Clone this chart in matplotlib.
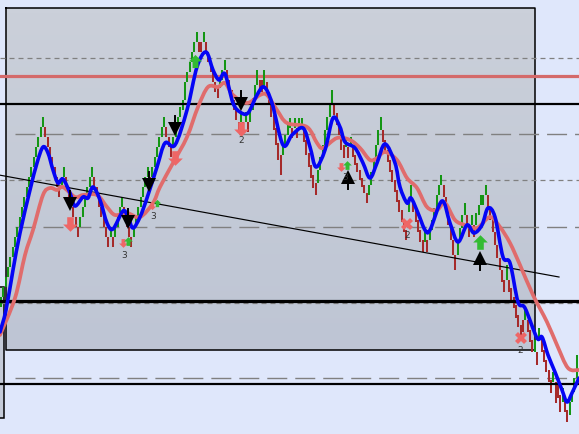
import numpy as np
import matplotlib
matplotlib.use('Agg')
import matplotlib.pyplot as plt
from matplotlib.path import Path
from matplotlib.patches import PathPatch

# everything in pixel units (y grows downward)
bar_step = 2.33
bar_high = [297,287,277,267,257,247,237,227,217,207,197,187,177,167,157,147,137,127,117,
            127,137,147,157,167,177,187,177,167,177,187,197,207,217,227,
            217,207,197,187,177,167,177,187,197,207,217,227,237,227,237,
            227,217,207,197,207,217,227,237,227,217,207,197,187,177,167,177,
            167,157,147,137,127,117,127,137,147,137,127,117,107,100,82,72,62,52,42,32,
            42,42,32,42,52,62,72,82,88,78,70,60,70,80,90,100,110,122,112,122,112,122,
            110,98,85,70,80,80,70,82,92,102,115,128,143,155,145,135,125,118,128,118,128,118,118,
            128,140,153,165,175,183,170,157,145,130,117,103,90,103,113,125,135,145,137,147,137,
            147,155,163,170,178,185,193,185,172,158,145,130,117,
            130,140,150,160,170,180,190,200,210,220,230,200,185,200,210,220,230,240,
            230,240,230,220,208,195,185,175,185,197,210,225,240,255,240,228,215,203,215,225,215,225,
            213,205,195,195,185,195,207,220,232,245,258,270,280,265,280,288,297,305,315,325,
            320,308,320,330,340,340,352,328,340,350,360,370,380,372,382,385,395,388,400,410,
            402,392,378,355]
bar_low = [307,297,287,277,267,257,247,237,227,217,207,197,187,177,167,157,147,137,127,
           137,147,157,167,177,187,197,187,177,187,197,207,217,227,237,
           227,217,207,197,187,177,187,197,207,217,227,237,247,237,247,
           237,227,217,207,217,227,237,247,237,227,217,207,197,187,177,187,
           177,167,157,147,137,127,137,147,157,147,137,127,117,110,100,82,72,62,52,42,
           52,52,42,52,62,72,82,92,98,88,80,70,80,90,100,110,120,132,122,132,122,132,
           122,110,98,85,92,92,88,95,105,117,130,145,160,175,155,145,135,128,138,128,138,128,128,
           142,155,167,178,188,195,183,170,157,145,130,117,103,115,125,135,150,158,147,158,147,
           157,165,172,180,187,193,203,195,185,172,158,145,130,
           142,152,162,172,182,192,202,212,222,232,240,212,200,212,222,232,242,252,
           242,252,240,230,220,208,195,185,197,210,225,240,255,270,255,240,228,215,228,237,225,237,
           225,215,205,205,195,207,220,232,245,258,270,282,292,280,292,300,308,318,327,338,
           332,320,332,342,352,352,365,340,352,362,372,382,393,382,403,398,412,402,412,422,
           415,402,392,378]
bar_dir = ('g' * 19 + 'r' * 7 + 'g' * 2 + 'r' * 6 + 'g' * 6 + 'r' * 7 + 'g' + 'r' + 'g' * 4 + 'r' * 4 + 'g' * 7 + 'r' +
           'g' * 6 + 'r' * 3 + 'g' * 11 + 'r' * 2 + 'g' + 'r' * 6 + 'g' * 3 + 'r' * 6 + 'grgr' + 'g' * 4 + 'r' * 2 + 'g' +
           'r' * 7 + 'g' * 4 + 'rgr' + 'g' * 2 + 'r' * 6 + 'g' * 7 + 'r' * 5 + 'grg' + 'r' * 7 + 'g' * 6 + 'r' * 11 +
           'g' * 2 + 'r' * 5 + 'gr' + 'g' * 6 + 'r' * 6 + 'g' * 4 + 'r' * 2 + 'gr' + 'g' * 5 + 'r' * 8 + 'g' + 'r' * 6 +
           'rg' + 'r' * 3 + 'grg' + 'r' * 5 + 'g' + 'r' * 3 + 'g' + 'r' * 2 + 'g' * 4)

blue_x = [0,6,13,20,30,37,43,48,53,58,63,70,75,83,88,93,100,107,113,123,128,133,140,147,157,165,
          175,187,197,206,213,219,225,233,240,248,257,264,272,283,292,303,310,316,325,333,340,
          345,355,363,370,377,385,395,400,407,411,418,425,430,442,450,458,467,474,482,488,495,
          503,510,518,525,537,542,548,555,562,567,572,579]
blue_y = [332,310,270,233,190,163,147,153,170,183,179,193,206,197,198,187,200,223,229,211,217,228,217,198,167,143,
          145,110,67,52,70,80,74,103,112,113,95,87,103,145,135,128,147,167,150,118,127,
          142,148,163,178,163,144,163,187,203,198,213,230,230,201,223,242,225,233,225,208,217,
          257,263,302,308,338,337,355,372,390,402,393,378]
red_x = [0,15,25,33,43,50,57,63,75,83,97,107,115,127,140,153,160,173,187,198,208,218,225,233,247,
         260,267,277,287,307,317,323,337,350,360,370,377,385,397,407,417,427,437,445,455,465,477,
         490,500,510,520,533,547,557,568,579]
red_y = [335,298,255,230,195,188,190,187,197,195,195,207,215,213,217,203,187,163,137,107,87,87,83,95,103,
         95,95,110,123,127,143,148,138,140,148,160,158,152,160,178,188,207,210,203,220,225,228,
         217,227,243,265,295,322,345,368,370]

level_solid = [104, 301, 384]
level_solid_lw = [2.2, 3.2, 2.2]
level_red = 76
level_long = [134, 227, 378]
level_short = [58, 180, 303]

down_x, down_y = [70, 128, 149, 175, 241], [203, 221, 184, 128, 103]
up_x, up_y = [348, 480], [178, 259]
red_arrow_x, red_arrow_y, red_arrow_s = [70, 123, 175, 241, 341, 152], [224, 243, 158, 129, 167, 206], [1.0, 0.6, 1.0, 1.0, 0.6, 0.5]
green_arrow_x, green_arrow_y, green_arrow_s = [128, 157, 195, 347, 480], [241, 203, 61, 165, 242], [0.6, 0.5, 0.9, 0.6, 1.0]
cross_x, cross_y = [407, 521], [224, 338]
note_x, note_y, note_txt = [153, 124, 345, 241, 407, 520], [216, 254, 177, 140, 235, 350], ['3', '3', '3', '2', '2', '2']


def smooth_line(x, y, color, lw, z):
    # bezier through the read points, the original lines are rounded
    pts = np.column_stack([x, y]).astype(float)
    verts, codes = [pts[0]], [Path.MOVETO]
    for i in range(len(pts) - 1):
        p0 = pts[max(i - 1, 0)]
        p3 = pts[min(i + 2, len(pts) - 1)]
        verts += [pts[i] + (pts[i + 1] - p0) / 6, pts[i + 1] - (p3 - pts[i]) / 6, pts[i + 1]]
        codes += [Path.CURVE4] * 3
    ax.add_patch(PathPatch(Path(verts, codes), fill=False, edgecolor=color, lw=lw, zorder=z, capstyle='round', joinstyle='round'))


fig = plt.figure(figsize=(5.79, 4.35), dpi=100, facecolor='#DFE7FB')
ax = fig.add_axes([0, 0, 1, 1])
ax.axis('off')

# panel with its gradient
grad = np.linspace(0, 1, 64).reshape(-1, 1)
cm = matplotlib.colors.LinearSegmentedColormap.from_list('panel', ['#CBD0DA', '#BEC5D4'])
ax.imshow(grad, extent=[6, 535, 350, 8], aspect='auto', cmap=cm, zorder=0)
ax.plot([6, 535, 535, 6, 6], [8, 8, 350, 350, 8], color='k', lw=1.1, zorder=1)
ax.fill([-2, 3.5, 3.5, -2], [287, 287, 418, 418], facecolor='#C5CBD8', edgecolor='k', lw=1.1, zorder=1)
ax.set_xlim(0, 579)
ax.set_ylim(434, -1)

# levels
for y in level_long:
    ax.plot([15, 579], [y, y], color='#808080', lw=1.0, dashes=(20 / 1.39, 8 / 1.39), zorder=2)
for y in level_short:
    ax.plot([0, 579], [y, y], color='#808080', lw=0.9, dashes=(5 / 1.25, 4 / 1.25), zorder=2)
ax.plot([-1, 579], [level_red, level_red], color='#D46A6A', lw=2.3, zorder=2)

# bars, snapped so they stay crisp like the original
for i in range(len(bar_high)):
    ax.plot([1 + i * bar_step] * 2, [bar_high[i], bar_low[i]], color='#149614' if bar_dir[i] == 'g' else '#A52A2A',
            lw=1.45, solid_capstyle='butt', zorder=3, snap=True)

for y, w in zip(level_solid, level_solid_lw):
    ax.plot([-1, 579], [y, y], color='k', lw=w * 0.72, zorder=4)
ax.plot([-1, 559], [175, 277], color='k', lw=0.85, zorder=4)

# moving averages
smooth_line(red_x, red_y, '#E06C6C', 2.7, 5)
smooth_line(blue_x, blue_y, '#0505F5', 2.6, 6)

# signal markers, marker paths have y going up
arrow_up = Path([(-1, 0), (-0.45, 0), (-0.45, -1), (0.45, -1), (0.45, 0), (1, 0), (0, 1), (-1, 0)])
arrow_down = Path([(-1, 0), (-0.45, 0), (-0.45, 1), (0.45, 1), (0.45, 0), (1, 0), (0, -1), (-1, 0)])
for x, y, s in zip(red_arrow_x, red_arrow_y, red_arrow_s):
    ax.plot(x, y, marker=arrow_down, ms=10.5 * s, color='#EE6666', mew=0, zorder=7)
for x, y, s in zip(green_arrow_x, green_arrow_y, green_arrow_s):
    ax.plot(x, y, marker=arrow_up, ms=10.5 * s, color='#33BB33', mew=0, zorder=7)
ax.plot(cross_x, cross_y, ls='none', marker='X', ms=8, color='#EE6666', mew=0, zorder=7)

for x, y in zip(down_x, down_y):
    ax.plot([x, x], [y - 12, y], color='k', lw=1.4, zorder=8)
    ax.plot(x, y + 1, marker='v', ms=10, color='k', mew=0, zorder=8)
for x, y in zip(up_x, up_y):
    ax.plot([x, x], [y, y + 11], color='k', lw=1.4, zorder=8)
    ax.plot(x, y - 1, marker='^', ms=10, color='k', mew=0, zorder=8)

for x, y, t in zip(note_x, note_y, note_txt):
    ax.text(x, y, t, fontsize=6.5, color='#333333', ha='center', va='center', zorder=9)

fig.savefig('out.png', dpi=100, facecolor=fig.get_facecolor())
